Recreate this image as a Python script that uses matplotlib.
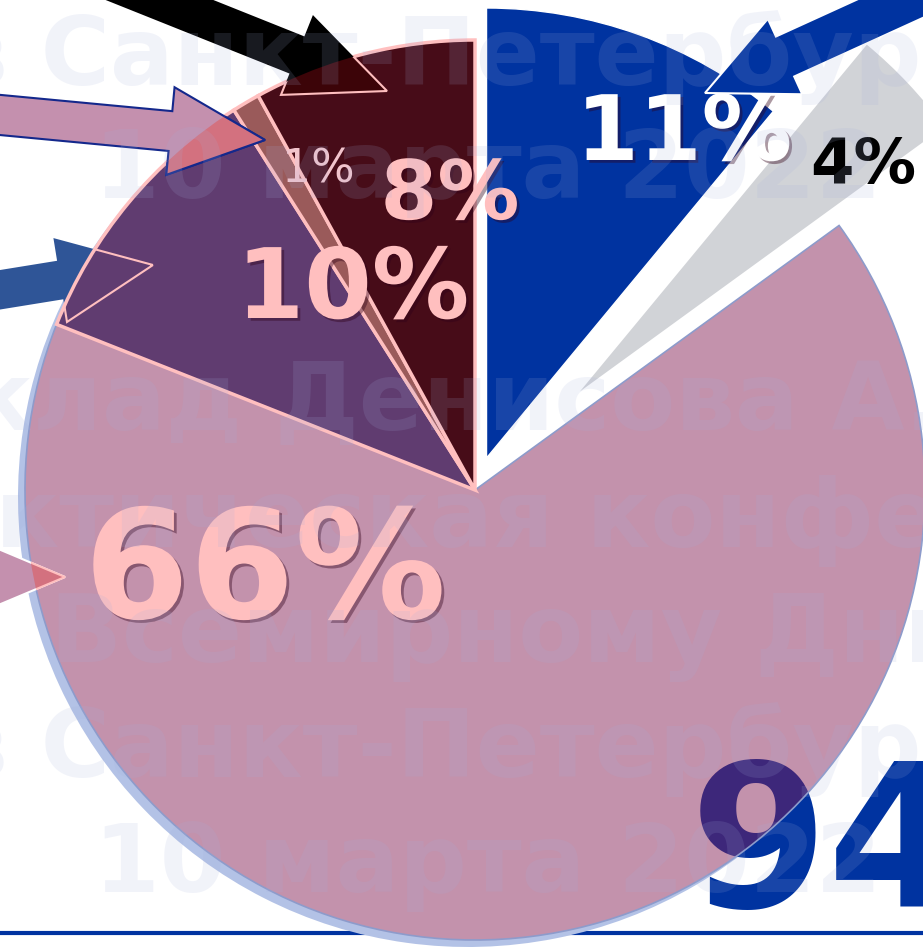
import numpy as np
import matplotlib
matplotlib.use('Agg')
import matplotlib.pyplot as plt
from matplotlib.patches import FancyArrow, Wedge, Circle
import matplotlib.patheffects as pe

W, H = 923, 947

# pie data
shares = [11, 4, 66, 10, 1, 8]
slice_labels = ['11%', '4%', '66%', '10%', '1%', '8%']
slice_colors = ['#0033A0', '#D1D3D7', (130/255, 26/255, 80/255, 0.475),
                '#603C70', '#9A5A5A', '#470C18']
total_label = '94'
watermark = ['в Санкт-Петербурге', '10 марта 2022', 'Доклад Денисова А.Ю.',
             'Практическая конференция', 'Всемирному Дню почки',
             'в Санкт-Петербурге', '10 марта 2022']

# layout, in pixels (y measured from top)
cx, cy, R = 475, 490, 450
explode = [34, 144, 0, 0, 0, 0]
lab_pos = [(684, 160, 'center'), (810, 183, 'left'), (265, 618, 'center'),
           (353, 318, 'center'), (318, 182, 'center'), (450, 219, 'center')]
lab_size = [65, 45, 109, 70, 33, 59]
lab_color = ['white', 'black', '#FFBFBF', '#FFBFBF', '#F2C4CC', '#FFBFBF']
wm_pos = [(-52, 85), (94, 198), (-180, 430), (-215, 547), (50, 662), (-52, 777), (94, 892)]


def Y(ypx):
    return H - ypx


def arrow_patch(tip, ang, length, shaft, hw, hl, **kw):
    # tip in pixel coords, ang = direction of travel (degrees, y down)
    a = np.radians(ang)
    tx, ty = tip
    sx, sy = tx - length*np.cos(a), ty - length*np.sin(a)
    return FancyArrow(sx, Y(sy), tx - sx, -(ty - sy), width=shaft, head_width=hw,
                      head_length=hl, length_includes_head=True, **kw)


fig = plt.figure(figsize=(W/100, H/100), dpi=100)
ax = fig.add_axes([0, 0, 1, 1])

wedges, _ = ax.pie(shares, colors=slice_colors, explode=explode, startangle=90,
                   counterclock=False, radius=R, center=(cx, Y(cy)), frame=False)
for w in wedges:
    w.set_zorder(3)
wedges[0].set_edgecolor('white'); wedges[0].set_linewidth(1)
wedges[2].set_edgecolor('#8D9BCB'); wedges[2].set_linewidth(1.2)
for w in wedges[3:]:
    w.set_edgecolor('#FFBFBF'); w.set_linewidth(2.5)

# shadow + white base under the transparent big slice
th1 = min(w.theta1 for w in wedges[2:])
th2 = max(w.theta2 for w in wedges[2:])
ax.add_patch(Wedge((cx - 7, Y(cy) - 7), R, th1, th2, fc='#B3C2E6', ec='none', zorder=1.5))
ax.add_patch(Wedge((cx, Y(cy)), R, wedges[2].theta1, wedges[2].theta2, fc='white', ec='none', zorder=2))

ax.axhline(Y(933), color='#0033A0', lw=3, zorder=1)
ax.text(690, Y(907), total_label, fontsize=143, fontweight='bold', color='#0033A0',
        ha='left', va='baseline', zorder=2.5)

disk = Circle((cx, Y(cy)), R, transform=ax.transData)

# arrows: (tip, angle, length, shaft, head width, head length)
blk = dict(tip=(387, 91), ang=21.8, length=500, shaft=40, hw=86, hl=97)
pk1 = dict(tip=(265, 140), ang=5.4, length=400, shaft=40, hw=88, hl=95)
bl1 = dict(tip=(153, 265), ang=-9.2, length=400, shaft=39, hw=85, hl=94)
pk2 = dict(tip=(65, 577), ang=0, length=300, shaft=40, hw=84, hl=100)
bl2 = dict(tip=(705, 93), ang=155.5, length=400, shaft=44, hw=83, hl=88)

# blue arrow on the left sits under the pie
ax.add_patch(arrow_patch(**bl1, fc='#2F5597', ec='none', zorder=2.5))
p = arrow_patch(**bl1, fc='none', ec='#FFBFBF', lw=1.5, zorder=5)
ax.add_patch(p); p.set_clip_path(disk)

ax.add_patch(arrow_patch(**blk, fc='black', ec='none', zorder=4))
p = arrow_patch(**blk, fc='#3C0408', ec='#FFBFBF', lw=1.5, zorder=4.5)
ax.add_patch(p); p.set_clip_path(disk)

ax.add_patch(arrow_patch(**pk1, fc='#C490AE', ec='#14288C', lw=1.5, zorder=4))
p = arrow_patch(**pk1, fc='#D3717F', ec='#14288C', lw=1.5, zorder=4.5)
ax.add_patch(p); p.set_clip_path(disk)

ax.add_patch(arrow_patch(**pk2, fc='#C490AE', ec='white', lw=1.5, zorder=4))
p = arrow_patch(**pk2, fc='#D3717F', ec='#FFBFBF', lw=1.5, zorder=4.5)
ax.add_patch(p); p.set_clip_path(disk)

ax.add_patch(arrow_patch(**bl2, fc='#0033A0', ec='white', lw=1.5, zorder=4))

# slice labels
shadow = [pe.withSimplePatchShadow(offset=(2, -2), shadow_rgbFace='#300018', alpha=0.4)]
for i, txt in enumerate(slice_labels):
    x, yb, ha = lab_pos[i]
    bold = i != 4
    eff = shadow if i not in (1, 4) else None
    ax.text(x, Y(yb), txt, fontsize=lab_size[i], fontweight='bold' if bold else 'normal',
            color=lab_color[i], ha=ha, va='baseline', zorder=6, path_effects=eff)

# watermark
for txt, (x, yb) in zip(watermark, wm_pos):
    ax.text(x, Y(yb), txt, fontsize=68, fontweight='bold', color='#A4B0DC', alpha=0.15,
            ha='left', va='baseline', zorder=10)

ax.set_xlim(0, W)
ax.set_ylim(0, H)
ax.set_aspect('equal')
ax.axis('off')

fig.savefig('out.png', dpi=100, facecolor='white')
